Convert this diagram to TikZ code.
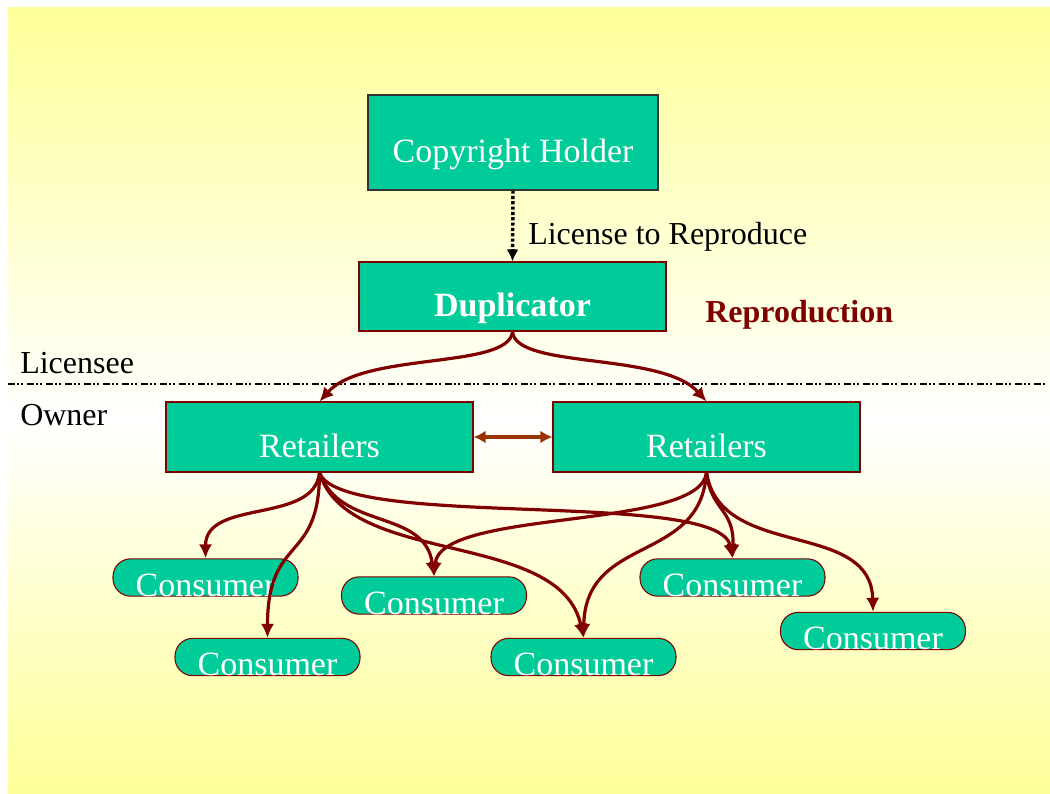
\documentclass[tikz,border=0pt]{standalone}
\usepackage{fontspec}
\setmainfont{Liberation Serif}
\usetikzlibrary{arrows.meta}
\definecolor{boxgreen}{RGB}{0,204,153}
\definecolor{darkred}{RGB}{128,0,0}
\definecolor{rust}{RGB}{153,51,0}
\definecolor{paleyellow}{RGB}{255,255,153}

\begin{document}
\begin{tikzpicture}[x=0.75pt,y=-0.75pt,
    box/.style={rectangle,draw=darkred,line width=0.8pt,fill=boxgreen,text=white,
        inner sep=0pt,text height=30pt,text depth=0pt,font=\fontsize{25.5}{30}\selectfont},
    capsule/.style={rectangle,rounded corners=13.3pt,draw=darkred,line width=0.8pt,
        fill=boxgreen,text=white,inner sep=0pt,minimum width=138.75pt,minimum height=26.6pt,
        text height=28pt,text depth=0pt,font=\fontsize{25.5}{30}\selectfont},
    sidetext/.style={font=\fontsize{24}{28}\selectfont,inner sep=0pt,anchor=base west},
    flow/.style={darkred,line width=2.4pt,-{Latex[length=10.5pt,width=10pt]}}]
    \useasboundingbox (0,0) rectangle (1050,793);
    % background
    \shade[top color=paleyellow,bottom color=white] (8,7) rectangle (1050,420);
    \shade[top color=white,bottom color=paleyellow] (8,420) rectangle (1050,793);

    \node[box,draw=black!80,minimum width=217.5pt,minimum height=71.25pt] (holder) at (513,142.5) {Copyright Holder};
    \node[box,minimum width=230.25pt,minimum height=51.75pt,font=\fontsize{25.5}{30}\selectfont\bfseries] (dup) at (512.5,296.5) {Duplicator};
    \node[box,minimum width=230.25pt,minimum height=52.5pt] (retL) at (319.5,437) {Retailers};
    \node[box,minimum width=230.25pt,minimum height=52.5pt] (retR) at (706.5,437) {Retailers};

    \node[sidetext] (license) at (528,244) {License to Reproduce};
    \node[sidetext,text=darkred,font=\fontsize{24}{28}\selectfont\bfseries] (repro) at (705,322) {Reproduction};
    \node[sidetext] (licensee) at (20,373) {Licensee};
    \node[sidetext] (owner) at (20,425) {Owner};

    % licensee / owner border
    \draw[line width=1.2pt,dash pattern=on 5.25pt off 1.5pt on 1.5pt off 1.5pt on 1.5pt off 3pt] (8,384) -- (1047,384);

    \node[capsule] (c1) at (205.5,577.5) {Consumer};
    \node[capsule] (c2) at (267.5,657) {Consumer};
    \node[capsule] (c3) at (434,595.5) {Consumer};
    \node[capsule] (c4) at (583.5,657) {Consumer};
    \node[capsule] (c5) at (732.5,577.5) {Consumer};
    \node[capsule] (c6) at (873,631) {Consumer};

    \draw[black,line width=2.6pt,dash pattern=on 2.4pt off 1.6pt,-{Latex[length=9pt,width=9pt]}] (holder.south) -- (dup.north);
    \draw[rust,line width=2.6pt,{Latex[length=9pt,width=9.5pt]}-{Latex[length=9pt,width=9.5pt]}] (retL) -- (retR);

    \draw[flow] (dup.south) .. controls +(-3,38) and +(45,-50) .. (retL.north);
    \draw[flow] (dup.south) .. controls +(3,38) and +(-45,-50) .. (retR.north);

    \draw[flow] (retL.south) .. controls +(-5,52) and +(0,-60) .. (c1.north);
    \draw[flow] (retL.south) .. controls +(0,92) and +(0,-104) .. (c2.north);
    \draw[flow] (retL.south) .. controls +(20,58) and +(-9,-68) .. (c3.north);
    \draw[flow] (retL.south) .. controls +(28,95) and +(-23,-109) .. (c4.north);
    \draw[flow] (retL.south) .. controls +(20,58) and +(-13,-70) .. (c5.north);

    \draw[flow] (retR.south) .. controls +(-6,58) and +(6,-68) .. (c3.north);
    \draw[flow] (retR.south) .. controls +(-6,92) and +(2,-104) .. (c4.north);
    \draw[flow] (retR.south) .. controls +(4,38) and +(2,-50) .. (c5.north);
    \draw[flow] (retR.south) .. controls +(14,88) and +(-2,-93) .. (c6.north);
\end{tikzpicture}
\end{document}
